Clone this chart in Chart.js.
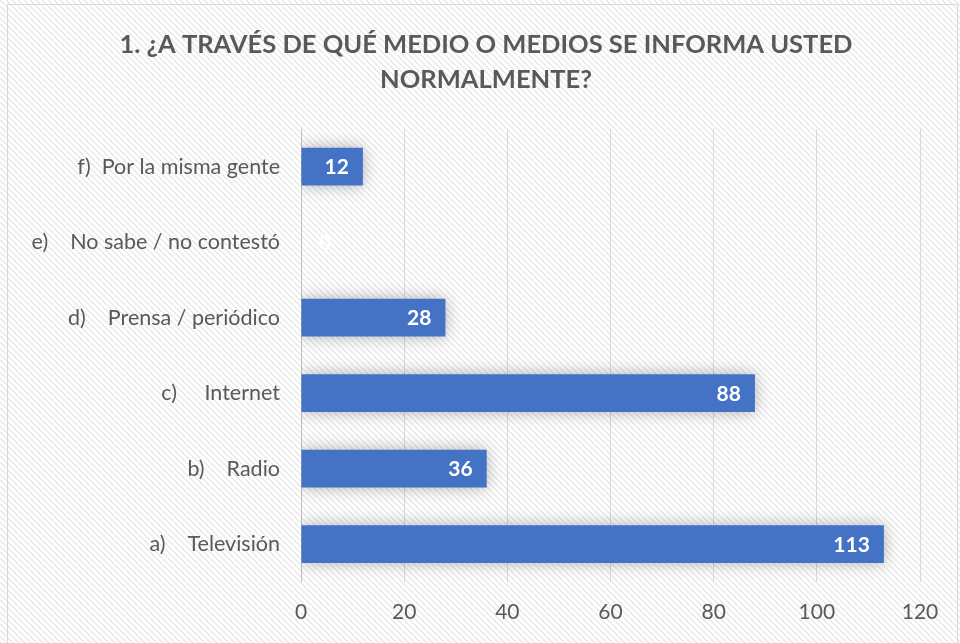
<!DOCTYPE html>
<html>
<head>
<meta charset="utf-8">
<script src="https://cdn.jsdelivr.net/npm/chart.js@4"></script>
<style>
  html,body{margin:0;padding:0;background:#fff;}
  #wrap{position:absolute;left:0;top:0;width:960px;height:643px;}
  #frame{position:absolute;left:7px;top:4px;width:951px;height:640px;border:1px solid #d9d9d9;box-sizing:border-box;pointer-events:none;}
</style>
</head>
<body>
<div id="wrap"><canvas id="c" width="960" height="643"></canvas></div>
<div id="frame"></div>
<script>
const categories = [
  "f)  Por la misma gente",
  "e)    No sabe / no contestó",
  "d)    Prensa / periódico",
  "c)     Internet",
  "b)    Radio",
  "a)    Televisión"
];
const values = [12, 0, 28, 88, 36, 113];
const xTicks = [0, 20, 40, 60, 80, 100, 120];
const titleLines = ["1. ¿A TRAVÉS DE QUÉ MEDIO O MEDIOS SE INFORMA USTED", "NORMALMENTE?"];

const FONT = "Lato, 'Open Sans', sans-serif";
const GREY = "#595959";

function makePattern(ctx){
  const p = document.createElement('canvas');
  p.width = 6; p.height = 6;
  const g = p.getContext('2d');
  g.fillStyle = '#ffffff';
  g.fillRect(0,0,6,6);
  g.strokeStyle = '#e8e8e8';
  g.lineWidth = 1.5;
  g.beginPath();
  for (let k=-6; k<=12; k+=6){
    g.moveTo(k,0); g.lineTo(k+6,6);
  }
  g.stroke();
  return ctx.createPattern(p,'repeat');
}

const bgPlugin = {
  id:'bg',
  beforeDraw(chart){
    const ctx = chart.ctx;
    ctx.save();
    ctx.fillStyle = makePattern(ctx);
    ctx.fillRect(0,0,chart.width,chart.height);
    ctx.restore();
  }
};

const titlePlugin = {
  id:'ctitle',
  afterDraw(chart){
    const ctx = chart.ctx;
    ctx.save();
    ctx.font = "bold 25.5px " + FONT;
    ctx.fillStyle = GREY;
    ctx.textAlign = 'center';
    ctx.textBaseline = 'middle';
    titleLines.forEach((t, i) => ctx.fillText(t, 486, 45 + i * 35));
    ctx.restore();
  }
};

const shadowPlugin = {
  id:'shadow',
  beforeDatasetDraw(chart){
    const ctx = chart.ctx;
    ctx.save();
    ctx.shadowColor = 'rgba(0,0,0,0.3)';
    ctx.shadowBlur = 16;
    ctx.shadowOffsetX = 0;
    ctx.shadowOffsetY = 0;
  },
  afterDatasetDraw(chart){
    chart.ctx.restore();
  }
};

const labelPlugin = {
  id:'vlabels',
  afterDatasetsDraw(chart){
    const ctx = chart.ctx;
    const meta = chart.getDatasetMeta(0);
    ctx.save();
    ctx.font = "bold 21px " + FONT;
    ctx.fillStyle = '#ffffff';
    ctx.textBaseline = 'middle';
    ctx.textAlign = 'right';
    meta.data.forEach((bar, i) => {
      const txt = String(values[i]);
      const w = ctx.measureText(txt).width;
      let x = bar.x - 14;
      if (x - w < bar.base + 12) x = bar.base + 18 + w;
      ctx.fillText(txt, x, bar.y + 1);
    });
    ctx.restore();
  }
};

new Chart(document.getElementById('c'), {
  type:'bar',
  data:{
    labels: categories,
    datasets:[{
      data: values,
      backgroundColor:'#4472C4',
      borderWidth:0,
      barPercentage:0.5,
      categoryPercentage:1.0
    }]
  },
  plugins:[bgPlugin, shadowPlugin, labelPlugin, titlePlugin],
  options:{
    indexAxis:'y',
    responsive:false,
    animation:false,
    devicePixelRatio:1,
    layout:{padding:{left:10,right:40,top:129,bottom:0}},
    plugins:{
      legend:{display:false},
      tooltip:{enabled:false},
      title:{display:false}
    },
    scales:{
      x:{
        min:0,max:120,
        afterBuildTicks(s){ s.ticks = xTicks.map(v=>({value:v})); },
        grid:{color:'#d9d9d9',lineWidth:1,drawTicks:false},
        border:{display:false},
        ticks:{color:GREY,font:{family:FONT,size:21},padding:18}
      },
      y:{
        grid:{display:false,drawTicks:false},
        border:{display:true,color:'#bfbfbf',width:1},
        ticks:{color:GREY,font:{family:FONT,size:21.5},padding:21},
        afterFit(s){ s.width = 291; }
      }
    }
  }
});
</script>
</body>
</html>
